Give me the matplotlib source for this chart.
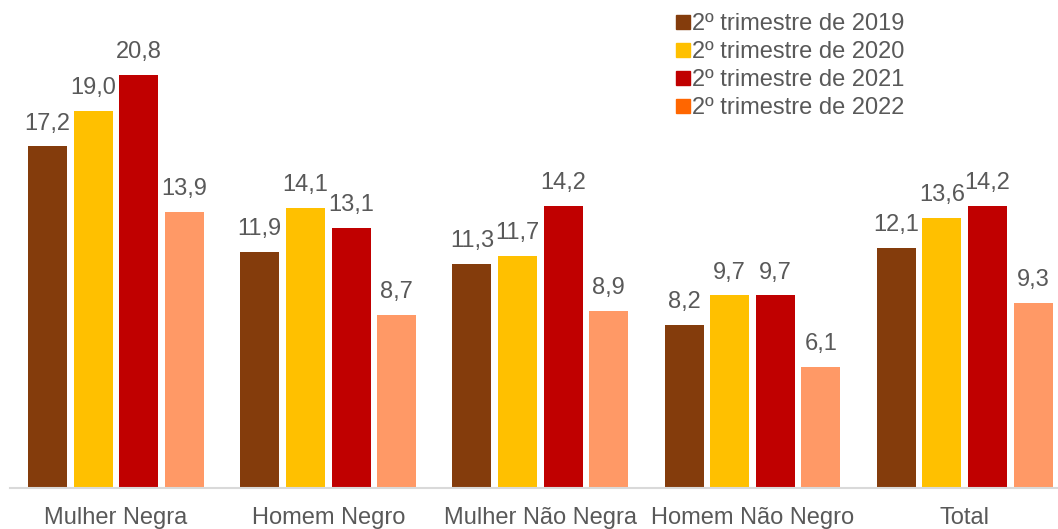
import matplotlib
matplotlib.use("Agg")
import matplotlib.pyplot as plt
from matplotlib.lines import Line2D
import numpy as np

plt.rcParams['font.family'] = ['Liberation Sans', 'DejaVu Sans']

categories = ["Mulher Negra", "Homem Negro", "Mulher Não Negra", "Homem Não Negro", "Total"]
series_names = ["2º trimestre de 2019", "2º trimestre de 2020", "2º trimestre de 2021", "2º trimestre de 2022"]
v2019 = [17.2, 11.9, 11.3, 8.2, 12.1]
v2020 = [19.0, 14.1, 11.7, 9.7, 13.6]
v2021 = [20.8, 13.1, 14.2, 9.7, 14.2]
v2022 = [13.9, 8.7, 8.9, 6.1, 9.3]
series = [v2019, v2020, v2021, v2022]
bar_colors = ["#843C0C", "#FFC000", "#C00000", "#FF9966"]
legend_colors = ["#843C0C", "#FFC000", "#C00000", "#FF6600"]

txt = "#595959"
fs = 17
fig = plt.figure(figsize=(10.58, 5.29), dpi=100)
ax = fig.add_axes([10/1058, 41/529, 1 - 10/1058, 488/529])

x = np.arange(len(categories))
pitch = 0.215
width = 0.184
for i, (vals, col) in enumerate(zip(series, bar_colors)):
    pos = x + (i - 1.5) * pitch
    ax.bar(pos, vals, width=width, color=col, zorder=2)
    for xp, v in zip(pos, vals):
        ax.annotate(f"{v:.1f}".replace(".", ","), (xp, v), xytext=(0, 8.5),
                    textcoords="offset points", ha="center", va="bottom",
                    fontsize=fs, color=txt)

ax.set_xlim(-0.5, 4.44)
ax.set_ylim(0, 24.57)
ax.set_yticks([])
for s in ["top", "right", "left"]:
    ax.spines[s].set_visible(False)
ax.spines["bottom"].set_color("#D9D9D9")
ax.spines["bottom"].set_linewidth(1.5)
ax.set_xticks(x)
ax.set_xticklabels(categories, fontsize=fs, color=txt)
ax.tick_params(axis="x", length=0, pad=14)

handles = [Line2D([], [], marker="s", linestyle="none", markersize=10.5,
                  markerfacecolor=c, markeredgecolor=c) for c in legend_colors]
leg = fig.legend(handles, series_names, loc="upper left",
                 bbox_to_anchor=(665/1058, 1 - 1/529), frameon=False,
                 fontsize=fs, handlelength=0.55, handletextpad=0.1,
                 labelspacing=0.26, borderpad=0)
for t in leg.get_texts():
    t.set_color(txt)

fig.savefig("out.png", dpi=100)
